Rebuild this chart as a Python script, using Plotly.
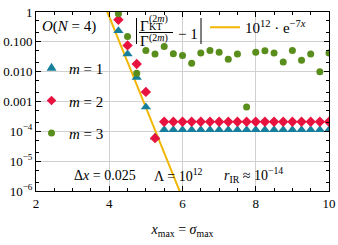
import plotly.graph_objects as go
import numpy as np

# ---- data ----
x_vals = [4.25, 4.5, 4.75, 5.0, 5.25, 5.5, 5.75, 6.0, 6.25, 6.5, 6.75, 7.0, 7.25, 7.5,
          7.75, 8.0, 8.25, 8.5, 8.75, 9.0, 9.25, 9.5, 9.75, 10.0]
m1_vals = [0.235, 0.039, 0.0064, 6.5e-4, 6.3e-5] + [1.12e-4] * 19
m2_vals = [0.55, 0.076, 0.018, 0.0021, 5.9e-5] + [2.1e-4] * 19
m3_vals = [0.88, 0.152, 0.0089, 0.051, 0.039, 0.070, 0.040, 0.035, 0.019, 0.042, 0.051,
           0.045, 0.026, 0.039, 6.5e-4, 0.045, 0.050, 0.042, 0.021, 0.051, 0.024, 0.039,
           0.010, 0.042]
fit_x = [3.9, 6.0]
fit_prefactor = 1e12
fit_rate = 7.0
series_names = ["<i>m</i> = 1", "<i>m</i> = 2", "<i>m</i> = 3"]

y_tickvals = [1, 0.1, 0.01, 0.001, 1e-4, 1e-5, 1e-6]
y_ticktext = ["1", "0.100", "0.010", "0.001", "10<sup>−4</sup>", "10<sup>−5</sup>", "10<sup>−6</sup>"]
x_tickvals = [2, 4, 6, 8, 10]

FONT = "Liberation Serif"
W, H = 338, 245
L, R, T, B = 36, 9, 12, 54
PW, PH = W - L - R, H - T - B
C1, C2, C3, CF = "#16809C", "#E8123F", "#5A8E1C", "#F2B705"


def px(x):
    return (x - L) / PW


def py(y):
    return (H - B - y) / PH


fig = go.Figure()

fx = np.linspace(fit_x[0], fit_x[1], 200)
fig.add_trace(go.Scatter(x=fx, y=fit_prefactor * np.exp(-fit_rate * fx), mode="lines",
                         line=dict(color=CF, width=2),
                         name="10<sup>12</sup> · e<sup>−7<i>x</i></sup>",
                         legend="legend2"))
fig.add_trace(go.Scatter(x=x_vals, y=m1_vals, mode="markers", name=series_names[0],
                         showlegend=False,
                         marker=dict(symbol="triangle-up", size=9, color=C1)))
fig.add_trace(go.Scatter(x=x_vals, y=m2_vals, mode="markers", name=series_names[1],
                         showlegend=False,
                         marker=dict(symbol="diamond", size=8, color=C2)))
fig.add_trace(go.Scatter(x=x_vals, y=m3_vals, mode="markers", name=series_names[2],
                         showlegend=False,
                         marker=dict(symbol="circle", size=7, color=C3)))

ann = []


def add_text(text, x, y, size=14, xanchor="left"):
    ann.append(dict(text=text, x=px(x), y=py(y), xref="paper", yref="paper",
                    showarrow=False, xanchor=xanchor, yanchor="middle",
                    font=dict(family=FONT, size=size, color="black")))


add_text("<i>O</i>(<i>N</i> = 4)", 40, 26, 15)
# fraction label
add_text("Γ", 138, 25.5, 15)
add_text("(2<i>m</i>)", 147, 18.5, 10)
add_text("KT", 147, 26.5, 10)
add_text("Γ", 138, 40.5, 15)
add_text("(2<i>m</i>)", 147, 37.5, 10)
add_text("− 1", 176, 34, 15)
# bottom note
add_text("Δ<i>x</i> = 0.025", 72, 175, 14)
add_text("Λ = 10<sup>12</sup>", 152, 175, 14)
add_text("<i>r</i><sub>IR</sub> ≈ 10<sup>−14</sup>", 222, 175, 14)
# custom legend labels for the marker series
leg_y = [68, 100.5, 133]
for name, yy in zip(series_names, leg_y):
    add_text(name, 67, yy + 1, 15)


def tri(cx, cy, hw=5.0, h=8.0):
    return (f"M {px(cx - hw)},{py(cy + h / 3)} L {px(cx + hw)},{py(cy + h / 3)} "
            f"L {px(cx)},{py(cy - 2 * h / 3)} Z")


def dia(cx, cy, r=4.8):
    return (f"M {px(cx - r)},{py(cy)} L {px(cx)},{py(cy - r)} "
            f"L {px(cx + r)},{py(cy)} L {px(cx)},{py(cy + r)} Z")


shapes = [
    dict(type="line", xref="paper", yref="paper", x0=px(136.5), x1=px(136.5),
         y0=py(18), y1=py(44), line=dict(color="black", width=1)),
    dict(type="line", xref="paper", yref="paper", x0=px(201), x1=px(201),
         y0=py(18), y1=py(44), line=dict(color="black", width=1)),
    dict(type="line", xref="paper", yref="paper", x0=px(139), x1=px(173),
         y0=py(32.5), y1=py(32.5), line=dict(color="black", width=1)),
    dict(type="path", xref="paper", yref="paper", path=tri(51.5, leg_y[0]),
         fillcolor=C1, line=dict(width=0)),
    dict(type="path", xref="paper", yref="paper", path=dia(51.5, leg_y[1]),
         fillcolor=C2, line=dict(width=0)),
    dict(type="circle", xref="paper", yref="paper", x0=px(48), x1=px(55),
         y0=py(leg_y[2] + 3.5), y1=py(leg_y[2] - 3.5),
         fillcolor=C3, line=dict(width=0)),
]

axis_common = dict(showline=True, linecolor="black", linewidth=1, mirror="allticks",
                   ticks="inside", ticklen=5, tickcolor="black", automargin=False,
                   showgrid=True, gridcolor="#d0d0d0", gridwidth=1, zeroline=False,
                   tickfont=dict(family=FONT, size=13, color="black"))

fig.update_layout(
    width=W, height=H, margin=dict(l=L, r=R, t=T, b=B, autoexpand=False),
    paper_bgcolor="white", plot_bgcolor="white",
    font=dict(family=FONT, size=14, color="black"),
    xaxis=dict(range=[2, 10], tickvals=x_tickvals, **axis_common,
               minor=dict(dtick=0.5, ticks="inside", ticklen=3, tickcolor="black", showgrid=False),
               title=dict(text="<i>x</i><sub>max</sub> = <i>σ</i><sub>max</sub>",
                          font=dict(family=FONT, size=14), standoff=14)),
    yaxis=dict(type="log", range=[-6, 0], tickvals=y_tickvals, ticktext=y_ticktext,
               **axis_common,
               minor=dict(ticks="inside", ticklen=3, tickcolor="black", showgrid=False)),
    showlegend=True,
    legend2=dict(x=px(205), y=py(11), xanchor="left", yanchor="top",
                 bgcolor="rgba(0,0,0,0)", font=dict(family=FONT, size=15)),
    annotations=ann, shapes=shapes,
)

fig.write_html("out.html", config={"displayModeBar": False},
               post_script="document.body.style.margin='0';")
